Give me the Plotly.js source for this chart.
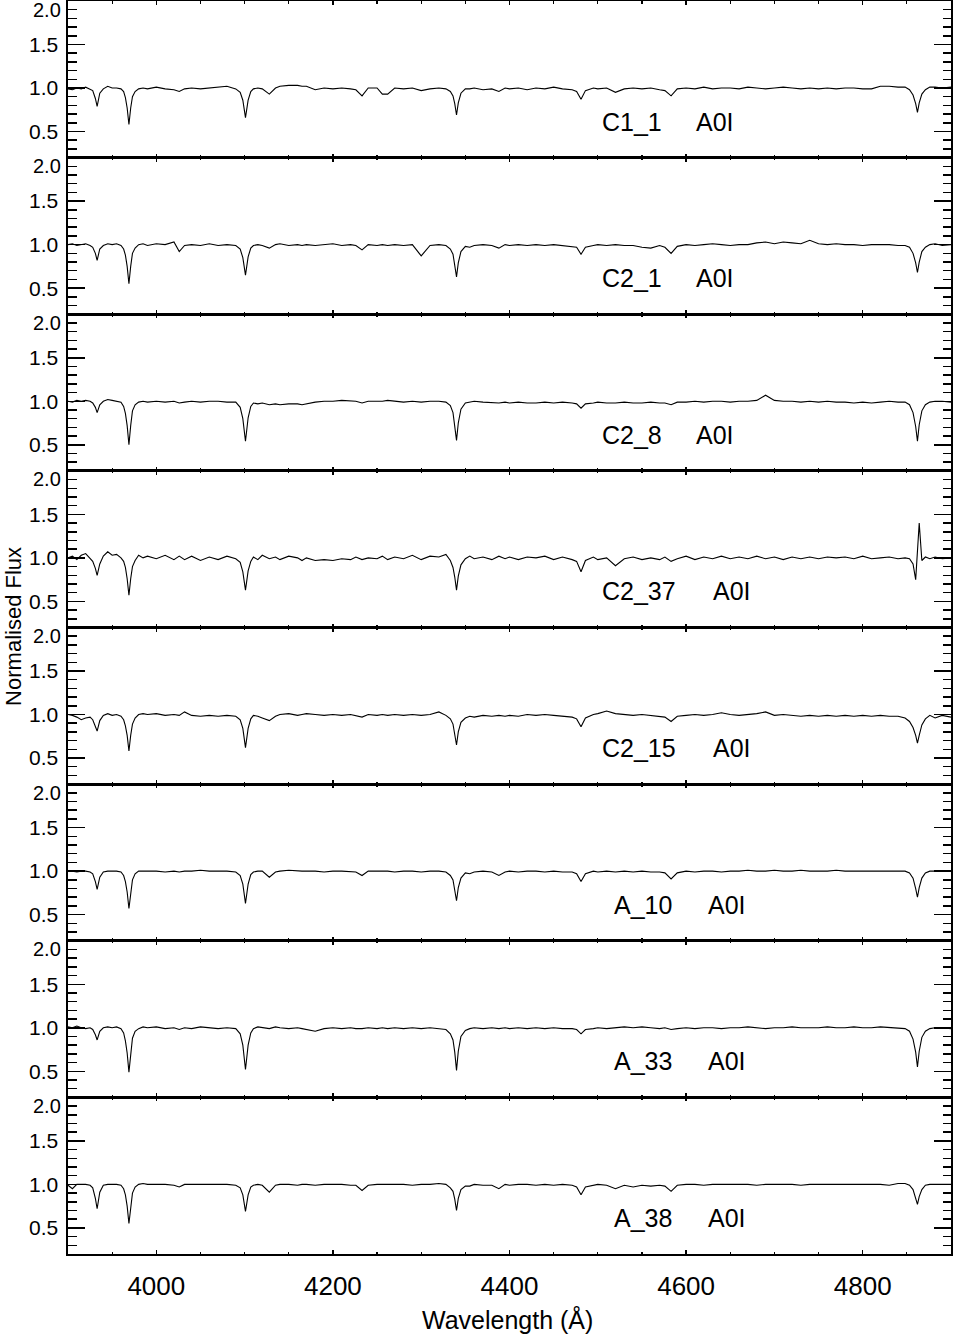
<!DOCTYPE html>
<html><head><meta charset="utf-8">
<script src="https://cdn.plot.ly/plotly-3.0.1.min.js"></script>
<style>html,body{margin:0;padding:0;background:#fff}#chart{width:954px;height:1336px}</style>
</head><body><div id="chart"></div>
<script>
// Wavelength grid (Angstrom), shared by all spectra
const wavelength = [
 3900,3905,3910,3915,3920,3925,3928,3931,3933,3936,
 3940,3945,3950,3955,3960,3963,3965,3967,3969,3971,
 3973,3976,3980,3985,3990,4000,4010,4020,4026,4032,
 4040,4050,4060,4070,4080,4090,4095,4098,4101,4104,
 4107,4110,4115,4120,4128,4135,4140,4150,4160,4165,
 4170,4180,4190,4200,4210,4220,4226,4233,4240,4250,
 4256,4262,4270,4280,4290,4300,4310,4320,4328,4333,
 4336,4338,4340,4342,4345,4350,4355,4360,4370,4380,
 4388,4395,4400,4410,4420,4430,4440,4450,4460,4471,
 4476,4481,4486,4495,4500,4510,4520,4530,4540,4550,
 4560,4570,4576,4583,4590,4600,4610,4620,4630,4640,
 4650,4660,4670,4680,4690,4700,4710,4720,4730,4740,
 4750,4760,4770,4780,4790,4800,4810,4820,4830,4840,
 4848,4853,4857,4860,4862,4864,4867,4871,4876,4882,
 4890,4900];

const starNames = ['C1_1','C2_1','C2_8','C2_37','C2_15','A_10','A_33','A_38'];
const spectralTypes = ['A0I','A0I','A0I','A0I','A0I','A0I','A0I','A0I'];

const flux_C1_1 = [
 0.99,0.98,1.00,0.99,1.01,0.99,0.97,0.88,0.79,0.94,
 0.99,1.02,1.00,1.00,0.99,0.96,0.89,0.77,0.58,0.77,
 0.90,0.96,0.99,1.00,0.99,1.01,0.99,0.98,0.96,0.99,
 1.00,0.99,1.00,1.01,1.02,0.99,0.95,0.86,0.66,0.86,
 0.96,0.99,1.00,0.99,0.93,1.00,1.02,1.03,1.03,1.02,
 1.02,0.98,1.00,0.99,1.00,0.99,0.98,0.91,1.00,1.00,
 0.93,0.93,1.00,0.99,1.00,0.97,0.99,1.00,0.99,0.96,
 0.91,0.82,0.69,0.83,0.94,0.99,0.99,1.00,0.98,0.99,
 0.96,1.00,0.99,1.00,0.98,1.00,0.99,1.01,0.99,0.98,
 0.96,0.87,0.97,1.00,0.99,1.00,0.95,0.99,1.00,0.99,
 1.00,0.98,0.97,0.91,0.99,1.00,0.99,1.01,0.99,1.00,
 1.00,0.99,1.01,1.00,0.99,1.00,1.01,1.00,0.99,1.00,
 0.99,1.00,0.99,1.00,1.00,0.99,0.99,1.02,1.02,1.01,
 1.01,0.98,0.92,0.82,0.72,0.83,0.93,0.98,1.01,1.01,
 1.00,1.01];

const flux_C2_1 = [
 1.00,1.01,0.99,1.00,1.01,0.99,0.97,0.90,0.82,0.95,
 0.99,1.01,1.00,1.01,0.99,0.95,0.88,0.75,0.55,0.75,
 0.90,0.96,1.00,1.01,0.99,1.01,1.00,1.03,0.92,0.99,
 1.00,0.99,1.01,0.99,1.00,0.99,0.95,0.85,0.65,0.86,
 0.96,0.99,1.00,0.99,0.96,1.00,1.01,0.99,1.00,0.99,
 1.00,0.99,1.00,1.01,0.99,1.00,0.99,0.94,1.00,0.99,
 1.00,0.99,1.00,0.99,1.00,0.87,0.99,1.00,0.99,0.95,
 0.89,0.78,0.63,0.79,0.92,0.98,0.97,0.99,1.00,0.99,
 0.96,1.00,0.99,1.00,0.99,1.00,0.99,1.00,0.99,0.98,
 0.97,0.89,0.97,0.99,1.00,0.99,1.00,0.99,0.99,0.97,
 0.96,0.99,0.97,0.90,0.98,1.00,0.99,1.00,1.01,1.00,
 0.99,1.00,1.00,1.02,1.03,1.01,1.03,1.02,1.01,1.05,
 1.01,1.00,1.01,1.00,1.00,0.99,1.00,1.00,1.00,0.99,
 0.99,0.97,0.90,0.79,0.68,0.80,0.92,0.97,1.00,1.01,
 0.99,1.00];

const flux_C2_8 = [
 1.00,0.99,1.01,1.00,1.01,1.00,0.98,0.93,0.87,0.96,
 1.00,1.02,1.01,1.00,0.99,0.94,0.86,0.72,0.50,0.72,
 0.89,0.96,0.99,1.00,0.99,1.00,0.99,1.00,0.98,0.99,
 1.00,0.99,1.00,1.00,0.99,0.99,0.93,0.80,0.54,0.81,
 0.94,0.98,0.97,0.98,0.96,0.97,0.96,0.97,0.97,0.96,
 0.97,0.99,1.00,1.00,1.01,1.00,1.00,0.98,1.00,1.00,
 1.00,1.01,1.00,0.99,1.00,0.99,1.00,1.00,0.99,0.95,
 0.87,0.73,0.55,0.75,0.91,0.98,0.99,1.00,0.99,0.98,
 0.98,0.99,0.98,0.99,0.98,0.98,0.99,0.98,0.99,0.98,
 0.97,0.92,0.97,0.98,0.99,0.98,0.98,0.99,0.98,0.98,
 0.99,0.98,0.98,0.96,0.99,0.99,1.00,0.99,1.00,1.00,
 0.99,1.00,1.00,1.01,1.07,1.01,1.00,1.00,0.99,1.00,
 0.99,1.00,0.99,0.99,0.98,0.99,0.98,0.99,1.00,0.99,
 0.99,0.96,0.87,0.71,0.54,0.73,0.89,0.96,0.99,1.00,
 1.00,0.99];

const flux_C2_37 = [
 1.00,1.02,0.98,1.03,1.05,1.00,0.96,0.88,0.80,0.93,
 1.02,1.07,1.03,1.04,1.00,0.96,0.89,0.76,0.57,0.76,
 0.90,0.97,1.03,1.00,1.02,0.99,1.03,0.98,1.02,0.98,
 1.02,0.97,1.01,0.98,1.02,0.99,0.95,0.84,0.63,0.85,
 0.96,1.01,0.98,1.03,0.99,1.01,0.98,1.02,1.00,0.97,
 1.00,0.97,0.98,0.97,0.99,0.98,1.01,0.98,1.00,0.99,
 1.02,0.98,1.01,0.99,1.03,0.98,1.02,1.01,1.04,0.97,
 0.89,0.78,0.63,0.79,0.92,0.99,1.02,0.99,1.01,0.98,
 1.02,0.99,1.01,0.98,1.01,1.00,1.02,0.98,1.01,0.98,
 0.96,0.84,0.97,1.01,0.98,1.00,0.91,0.99,1.01,0.98,
 1.00,0.98,1.01,0.96,0.99,1.02,0.98,1.01,0.99,1.02,
 0.99,1.01,0.99,1.02,0.99,1.01,0.98,1.01,0.99,1.01,
 0.99,1.01,1.00,1.01,0.99,1.02,0.99,1.00,1.01,0.99,
 1.00,0.99,0.93,0.75,1.05,1.40,0.97,1.01,0.99,1.01,
 0.99,1.00];

const flux_C2_15 = [
 1.00,0.99,0.97,0.94,0.96,0.97,0.94,0.87,0.81,0.93,
 0.99,1.01,0.99,1.00,0.98,0.94,0.87,0.76,0.58,0.76,
 0.89,0.96,1.00,1.01,1.00,1.01,0.99,1.00,0.99,1.03,
 0.99,0.98,0.99,0.98,0.99,0.98,0.94,0.84,0.62,0.84,
 0.95,0.99,0.98,0.96,0.93,0.98,1.00,1.01,0.99,1.00,
 1.01,1.00,0.99,1.00,0.99,1.00,0.99,0.97,1.00,0.99,
 1.00,0.99,1.00,0.99,1.00,0.99,1.00,1.03,0.99,0.95,
 0.89,0.79,0.65,0.80,0.91,0.96,0.98,0.97,0.99,0.98,
 0.99,0.98,0.99,0.98,1.00,0.99,1.00,0.99,0.98,0.97,
 0.95,0.86,0.96,1.00,1.01,1.04,1.01,1.00,0.99,1.00,
 0.99,0.98,0.97,0.92,0.98,0.99,1.00,0.99,1.00,1.02,
 1.00,0.99,1.00,1.01,1.03,0.99,1.00,0.99,0.98,0.99,
 0.98,0.99,0.98,0.99,0.98,0.99,0.98,0.99,0.98,0.98,
 0.96,0.92,0.85,0.76,0.67,0.76,0.88,0.95,0.99,0.96,
 0.99,0.97];

const flux_A_10 = [
 1.00,1.00,0.99,1.00,1.00,0.99,0.97,0.88,0.79,0.93,
 0.99,1.00,1.00,1.00,0.99,0.95,0.88,0.76,0.57,0.76,
 0.90,0.97,1.00,1.00,1.00,1.00,0.99,1.00,0.99,1.00,
 1.00,1.01,1.00,1.00,1.00,0.99,0.95,0.85,0.63,0.85,
 0.96,0.99,1.00,1.00,0.93,0.99,1.00,1.01,1.00,1.00,
 1.00,1.00,0.99,1.00,1.00,0.99,0.99,0.95,1.00,1.00,
 1.00,1.00,0.99,1.00,1.00,0.99,1.00,1.00,0.99,0.95,
 0.90,0.80,0.66,0.81,0.92,0.98,0.97,0.99,1.00,0.99,
 0.95,0.99,1.00,0.99,1.00,1.00,0.99,1.00,0.99,0.99,
 0.97,0.88,0.97,1.00,0.99,1.00,0.99,1.00,0.99,1.00,
 0.99,0.99,0.98,0.91,0.98,1.00,0.99,1.00,1.00,0.99,
 1.00,1.00,1.01,1.00,1.00,1.01,1.00,1.00,1.01,1.00,
 1.00,1.00,1.01,1.00,1.00,1.00,1.00,1.00,1.00,1.00,
 1.00,0.98,0.92,0.80,0.70,0.81,0.92,0.98,1.00,1.00,
 1.00,1.00];

const flux_A_33 = [
 1.01,1.00,1.02,1.00,0.99,1.00,0.98,0.92,0.86,0.96,
 1.00,1.01,1.00,1.01,0.99,0.94,0.85,0.71,0.49,0.71,
 0.88,0.96,0.99,1.01,1.00,1.01,0.99,1.00,0.98,1.00,
 0.99,1.01,1.00,0.99,1.00,0.99,0.93,0.80,0.52,0.80,
 0.94,0.99,1.01,1.00,0.99,1.01,1.00,0.99,1.00,0.99,
 0.98,0.96,0.99,1.00,0.99,1.00,0.99,0.99,1.00,0.99,
 1.00,0.99,1.00,0.99,1.00,0.99,1.00,0.99,0.98,0.93,
 0.86,0.72,0.51,0.73,0.90,0.97,0.99,1.00,0.99,1.00,
 0.99,1.00,0.99,1.00,0.99,1.00,0.99,1.00,0.99,0.99,
 0.98,0.93,0.98,0.99,1.00,0.99,1.00,1.01,1.00,1.01,
 1.00,0.99,1.00,0.98,0.99,1.00,0.99,1.00,1.00,0.99,
 1.00,1.00,1.01,1.00,0.99,1.00,1.00,1.01,1.00,1.00,
 1.00,1.01,1.00,1.00,1.01,1.00,1.00,1.01,1.00,0.99,
 0.99,0.96,0.87,0.72,0.55,0.73,0.89,0.96,0.99,1.00,
 1.00,0.99];

const flux_A_38 = [
 0.99,0.95,1.00,1.00,1.00,0.99,0.96,0.84,0.72,0.91,
 0.99,1.00,1.00,1.00,0.99,0.95,0.88,0.75,0.55,0.75,
 0.90,0.97,1.00,1.01,1.00,1.00,1.00,0.99,0.97,1.00,
 1.00,1.00,1.00,1.00,1.00,0.99,0.96,0.88,0.69,0.88,
 0.97,0.99,1.00,0.99,0.91,0.99,1.00,1.00,0.99,1.00,
 1.00,0.99,1.00,1.00,1.00,0.99,0.99,0.93,0.99,1.00,
 1.00,1.00,1.00,1.00,0.99,1.00,1.00,1.01,1.00,0.96,
 0.92,0.83,0.70,0.84,0.94,0.98,0.98,1.00,0.99,0.99,
 0.95,1.00,0.99,1.00,1.00,0.99,1.00,0.99,1.00,0.99,
 0.97,0.88,0.97,0.99,1.00,0.99,0.95,0.99,0.97,0.99,
 0.98,0.99,0.98,0.92,0.99,1.00,1.00,0.99,1.00,1.00,
 1.00,1.00,1.00,0.99,1.00,1.00,1.00,1.00,0.99,1.00,
 1.00,1.00,1.00,1.00,1.00,1.00,1.00,1.00,0.99,1.01,
 1.01,0.99,0.94,0.85,0.77,0.86,0.94,0.99,1.00,1.00,
 1.00,1.00];

const fluxes = [flux_C1_1, flux_C2_1, flux_C2_8, flux_C2_37, flux_C2_15, flux_A_10, flux_A_33, flux_A_38];
const yTickValues = [0.5, 1.0, 1.5];
const yTickText = ['0.5', '1.0', '1.5'];
const xTickValues = [4000, 4200, 4400, 4600, 4800];

fluxes.forEach((f, i) => { if (f.length !== wavelength.length) console.error('length mismatch', starNames[i], f.length); });

// label placement (layout only): left edge of the star name and of the spectral type, in Angstrom
const nameLabelX = [4502, 4502, 4502, 4502, 4502, 4516, 4516, 4516];
const typeLabelX = [4609, 4609, 4609, 4628, 4628, 4622, 4622, 4622];

const FONT = 'Liberation Sans, Arial, sans-serif';
const N = starNames.length;
const traces = [];
const layout = {
  width: 954, height: 1336,
  margin: {l: 68, r: 3, t: 1, b: 82, pad: 0},
  paper_bgcolor: '#fff', plot_bgcolor: '#fff',
  showlegend: false,
  font: {family: FONT, color: '#000', size: 21},
  annotations: []
};

for (let i = 0; i < N; i++) {
  const ax = i + 1;
  traces.push({
    type: 'scatter', mode: 'lines',
    x: wavelength, y: fluxes[i],
    xaxis: 'x' + ax, yaxis: 'y' + ax,
    line: {color: '#000', width: 1.1},
    hoverinfo: 'skip'
  });
  const top = 1 - i / N, bot = 1 - (i + 1) / N;
  layout['xaxis' + ax] = {
    domain: [0, 1], range: [3900, 4900], anchor: 'y' + ax,
    tickmode: 'array', tickvals: xTickValues,
    ticks: 'inside', ticklen: 4, tickwidth: 1.5, tickcolor: '#000',
    minor: {dtick: 50, tick0: 3900, ticks: 'inside', ticklen: 2.5, tickwidth: 1.2, tickcolor: '#000'},
    showticklabels: i === N - 1,
    tickfont: {family: FONT, size: 26, color: '#000'},
    ticklabelstandoff: 8,
    showline: true, linewidth: 1.6, linecolor: '#000', mirror: 'ticks',
    showgrid: false, zeroline: false, fixedrange: true
  };
  layout['yaxis' + ax] = {
    domain: [bot, top], range: [0.2, 2.0], anchor: 'x' + ax,
    tickmode: 'array', tickvals: yTickValues, ticktext: yTickText,
    ticks: 'inside', ticklen: 17, tickwidth: 1.5, tickcolor: '#000',
    minor: {dtick: 0.1, tick0: 0, ticks: 'inside', ticklen: 8.5, tickwidth: 1.5, tickcolor: '#000'},
    tickfont: {family: FONT, size: 21, color: '#000'},
    ticklabelstandoff: 4,
    showline: true, linewidth: 1.6, linecolor: '#000', mirror: 'ticks',
    showgrid: false, zeroline: false, fixedrange: true
  };
  // "2.0" label, drawn just below the panel top as in the original
  layout.annotations.push({
    xref: 'paper', yref: 'y' + ax, x: 0, y: 2.0,
    xanchor: 'right', yanchor: 'middle', xshift: -5, yshift: -8.5,
    text: '2.0', showarrow: false,
    font: {family: FONT, size: 20, color: '#000'}
  });
  // star name and spectral type
  layout.annotations.push({
    xref: 'x' + ax, yref: 'y' + ax, x: nameLabelX[i], y: 0.615,
    xanchor: 'left', yanchor: 'middle',
    text: starNames[i], showarrow: false,
    font: {family: FONT, size: 25, color: '#000'}
  });
  layout.annotations.push({
    xref: 'x' + ax, yref: 'y' + ax, x: typeLabelX[i], y: 0.615,
    xanchor: 'left', yanchor: 'middle',
    text: spectralTypes[i], showarrow: false,
    font: {family: FONT, size: 25, color: '#000'}
  });
}

// axis titles
layout.annotations.push({
  xref: 'paper', yref: 'paper', x: 0.498, y: -0.0525,
  xanchor: 'center', yanchor: 'middle',
  text: 'Wavelength (\u00c5)', showarrow: false,
  font: {family: FONT, size: 25, color: '#000'}
});
layout.annotations.push({
  xref: 'paper', yref: 'paper', x: -0.0610, y: 0.5006,
  xanchor: 'center', yanchor: 'middle', textangle: -90,
  text: 'Normalised Flux', showarrow: false,
  font: {family: FONT, size: 22, color: '#000'}
});

Plotly.newPlot('chart', traces, layout, {displayModeBar: false, staticPlot: true});
</script>
</body></html>
